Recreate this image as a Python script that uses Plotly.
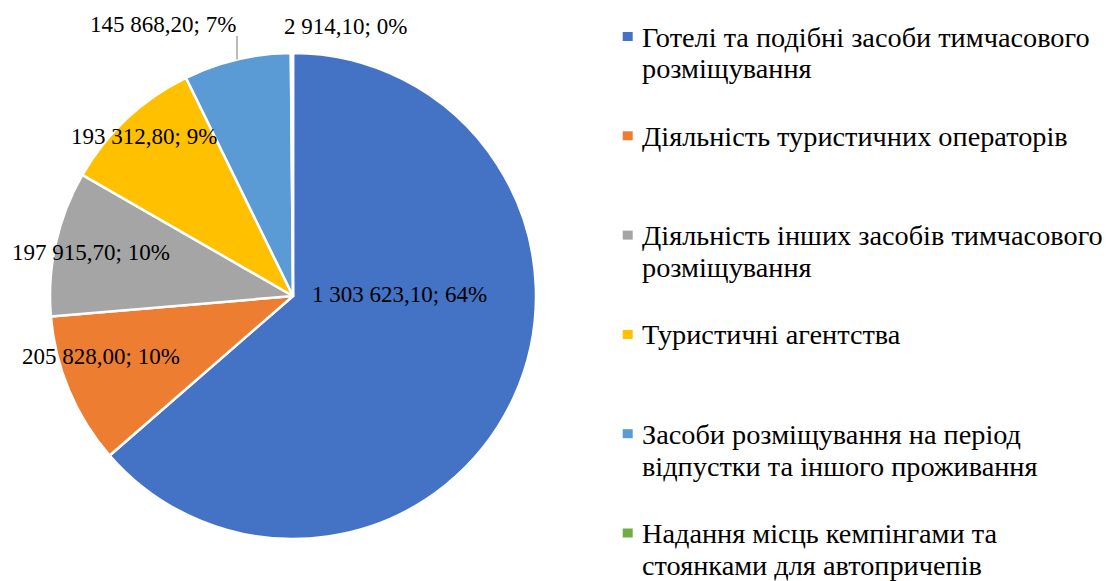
import math
import plotly.graph_objects as go

# ---- data ----
categories = [
    "Готелі та подібні засоби тимчасового розміщування",
    "Діяльність туристичних операторів",
    "Діяльність інших засобів тимчасового розміщування",
    "Туристичні агентства",
    "Засоби розміщування на період відпустки та іншого проживання",
    "Надання місць кемпінгами та стоянками для автопричепів",
]
values = [1303623.10, 205828.00, 197915.70, 193312.80, 145868.20, 2914.10]
legend_lines = [
    ["Готелі та подібні засоби тимчасового", "розміщування"],
    ["Діяльність туристичних операторів"],
    ["Діяльність інших засобів тимчасового", "розміщування"],
    ["Туристичні агентства"],
    ["Засоби розміщування на період", "відпустки та іншого проживання"],
    ["Надання місць кемпінгами та", "стоянками для автопричепів"],
]

# ---- style ----
colors = ["#4472C4", "#ED7D31", "#A5A5A5", "#FFC000", "#5B9BD5", "#70AD47"]
W, H = 1109, 581
FONT = "Times New Roman"
LABEL_SIZE = 23
LEGEND_SIZE = 28.3
cx, cy, R = 293, 296, 243          # pie centre / radius in px
label_pos = [(399, 294.5), (101, 356), (91, 252), (144, 136), (163, 24), (345, 27)]
# legend layout (px)
leg_marker_x, leg_text_x = 627.7, 639.5
leg_first_y, leg_item_gap, leg_line_gap = 37, 99.3, 32
leg_marker_w, leg_marker_h = 10, 9


def fmt(v):
    return f"{v:,.2f}".replace(",", " ").replace(".", ",")


total = sum(values)
labels_txt = [f"{fmt(v)}; {round(v / total * 100)}%" for v in values]

fig = go.Figure(
    go.Pie(
        labels=categories,
        values=values,
        sort=False,
        direction="clockwise",
        rotation=0,
        marker=dict(colors=colors, line=dict(color="white", width=2.5)),
        textinfo="none",
        hoverinfo="label+value+percent",
        showlegend=False,
        domain=dict(x=[(cx - R) / W, (cx + R) / W], y=[(H - cy - R) / H, (H - cy + R) / H]),
    )
)

# data labels
for (px, py), t in zip(label_pos, labels_txt):
    fig.add_annotation(
        x=px / W, y=1 - py / H, xref="paper", yref="paper",
        text=t, showarrow=False, xanchor="center", yanchor="middle",
        font=dict(family=FONT, size=LABEL_SIZE, color="black"),
    )

# leader line for the light-blue slice label
lx = 237
ly_end = cy - math.sqrt(R ** 2 - (lx - cx) ** 2)
fig.add_shape(type="line", xref="paper", yref="paper",
              x0=lx / W, x1=lx / W, y0=1 - 36 / H, y1=1 - ly_end / H,
              line=dict(color="#A5A5A5", width=1.5))

# legend (Excel-style: marker aligned with first line, single line spacing)
for i, (lines, col) in enumerate(zip(legend_lines, colors)):
    y0 = leg_first_y + i * leg_item_gap
    fig.add_shape(type="rect", xref="paper", yref="paper",
                  x0=(leg_marker_x - leg_marker_w / 2) / W, x1=(leg_marker_x + leg_marker_w / 2) / W,
                  y0=1 - (y0 - 0.5 - leg_marker_h / 2) / H, y1=1 - (y0 - 0.5 + leg_marker_h / 2) / H,
                  fillcolor=col, line=dict(width=0))
    for k, ln in enumerate(lines):
        fig.add_annotation(
            x=leg_text_x / W, y=1 - (y0 + k * leg_line_gap) / H, xref="paper", yref="paper",
            text=ln, showarrow=False, xanchor="left", yanchor="middle",
            font=dict(family=FONT, size=LEGEND_SIZE, color="black"),
        )

fig.update_layout(
    width=W, height=H,
    margin=dict(l=0, r=0, t=0, b=0, autoexpand=False),
    paper_bgcolor="white", plot_bgcolor="white",
    showlegend=False,
)

fig.write_html("out.html", post_script="document.body.style.margin='0';",
               config={"displayModeBar": False})
